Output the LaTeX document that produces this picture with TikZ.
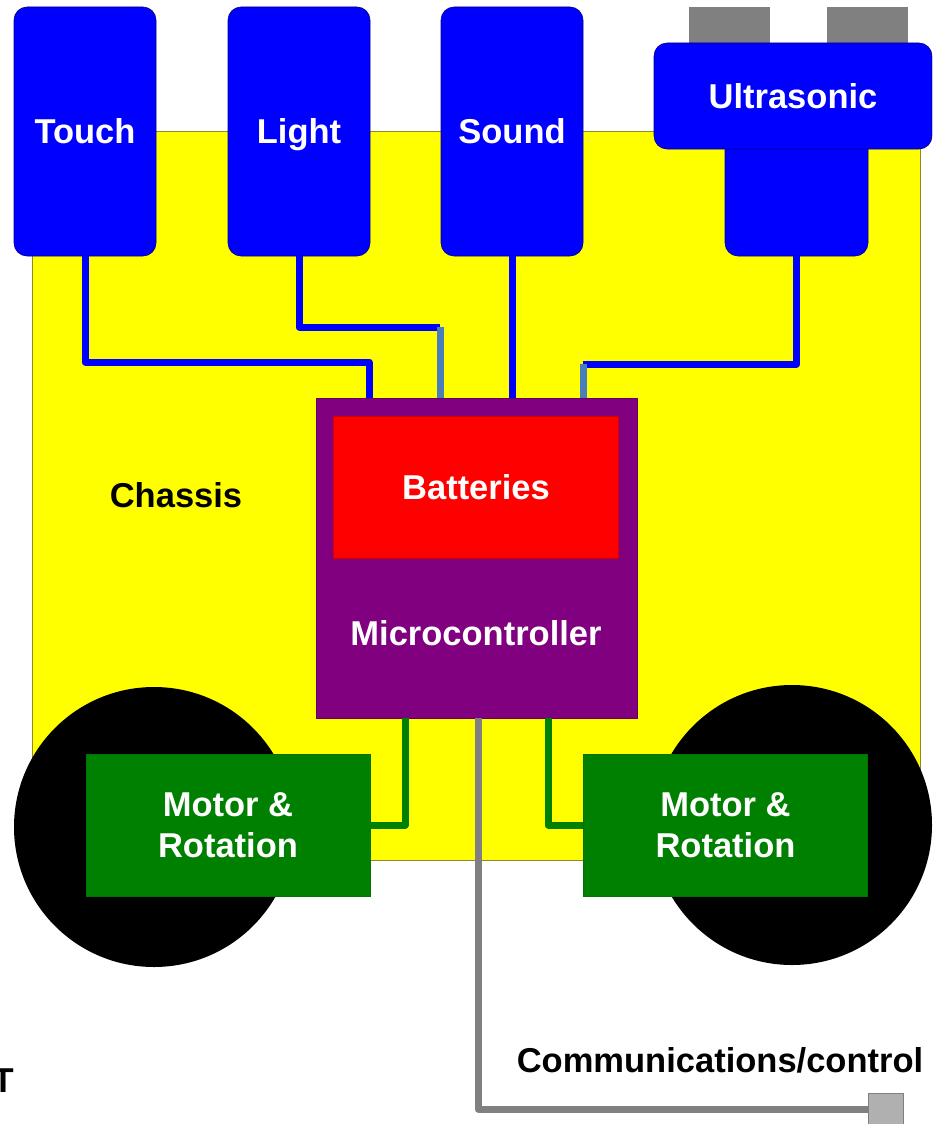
\documentclass[tikz,border=0pt]{standalone}
\usepackage{fontspec}
\setmainfont{Liberation Sans}
\usetikzlibrary{calc}
\definecolor{cyellow}{HTML}{FFFF00}
\definecolor{cblue}{HTML}{0000FF}
\definecolor{csteel}{HTML}{4A7EBB}
\definecolor{cpurple}{HTML}{800080}
\definecolor{cred}{HTML}{FF0000}
\definecolor{cgreen}{HTML}{008000}
\definecolor{cgray}{HTML}{808080}
\definecolor{cconn}{HTML}{B0B0B0}
\begin{document}
\begin{tikzpicture}[x=1pt,y=-1pt,
  txt/.style={font=\bfseries\fontsize{34.5}{41}\selectfont, inner sep=0pt},
  lbl/.style={txt, text height=24.7pt, text depth=0pt},
  sensor/.style={lbl, draw=blue!55!black, line width=0.6pt, fill=cblue, rounded corners=13pt, text=white, minimum width=142pt, minimum height=249pt},
  plainbox/.style={inner sep=0pt, line width=0.6pt},
  motorbox/.style={txt, plainbox, fill=cgreen, draw=green!45!black, text=white, align=center, minimum width=284pt, minimum height=142pt},
  wheel/.style={circle, fill=black, inner sep=0pt, minimum size=280pt},
  bluewire/.style={draw=cblue, line width=7pt, line join=round},
  steelwire/.style={draw=csteel, line width=7pt, line join=round},
  greenwire/.style={draw=cgreen, line width=7pt, line join=round},
  graywire/.style={draw=cgray, line width=7pt, line join=round}
]
\useasboundingbox (0,0) rectangle (932,1124);
\clip (0,0) rectangle (932,1124);
% chassis
\node[plainbox, fill=cyellow, draw=olive!70!gray, minimum width=888pt, minimum height=729pt] (chassis) at (476,495.5) {};
\node[lbl] (chtext) at (176,495) {Chassis};
% wheels
\node[wheel] (wheelL) at (154,827) {};
\node[wheel] (wheelR) at (792,825) {};
% ultrasonic transducers
\node[plainbox, fill=cgray, minimum width=81pt, minimum height=46pt] (tr1) at (729.5,30) {};
\node[plainbox, fill=cgray, minimum width=81pt, minimum height=46pt] (tr2) at (867.5,30) {};
% sensors
\node[sensor] (touch) at (85,131.5) {Touch};
\node[sensor] (light) at (299,131.5) {Light};
\node[sensor] (sound) at (512,131.5) {Sound};
\node[sensor, minimum width=143pt, minimum height=126pt] (ultra) at (796.5,193) {};
\node[sensor, minimum width=278pt, minimum height=106pt] (utop) at (793,96) {Ultrasonic};
% microcontroller
\node[plainbox, fill=cpurple, draw=cpurple!80!black, minimum width=321pt, minimum height=320pt] (mc) at (476.5,558) {};
\node[lbl, plainbox, fill=cred, draw=red!80!black, text=white, minimum width=285pt, minimum height=142pt] (bat) at (476,487) {Batteries};
\node[lbl, text=white] (mctext) at (476,633) {Microcontroller};
% motors
\node[motorbox] (motorL) at (228,825) {Motor \&\\Rotation};
\node[motorbox] (motorR) at (725.5,825) {Motor \&\\Rotation};
% connector
\node[plainbox, fill=cconn, draw=cgray, minimum width=35pt, minimum height=32pt] (conn) at (885.5,1109) {};
% sensor wires
\coordinate (tk) at (369,362);
\coordinate (lt) at (440,327);
\coordinate (us) at (583,364);
\draw[bluewire] (touch.south) |- (tk) -- (tk |- mc.north);
\draw[bluewire] (light.south) |- (lt);
\draw[steelwire] (lt) -- (lt |- mc.north);
\draw[bluewire] (sound.south) -- (sound.south |- mc.north);
\draw[bluewire] (ultra.south) |- (us);
\draw[steelwire] (us) -- (us |- mc.north);
% motor wires
\coordinate (gl) at (405,0);
\coordinate (gr) at (548,0);
\draw[greenwire] (mc.south -| gl) |- (motorL.east);
\draw[greenwire] (mc.south -| gr) |- (motorR.west);
% communications wire
\coordinate (cw) at (478,0);
\draw[graywire] (mc.south -| cw) |- (conn.west);
\node[lbl, text=black] (comm) at (720,1060) {Communications/control};
\node[lbl, text=black, anchor=east] (tt) at (14,1080) {T};
\end{tikzpicture}
\end{document}
